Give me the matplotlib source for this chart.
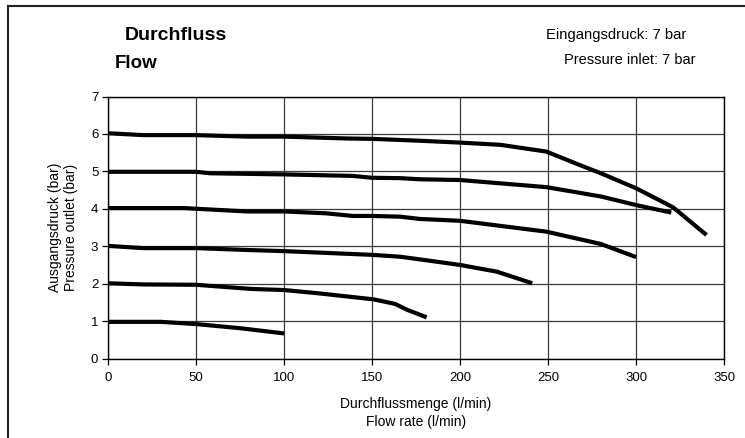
import numpy as np
import matplotlib.pyplot as plt
from matplotlib.lines import Line2D

plt.rcParams["font.family"] = ["Liberation Sans", "DejaVu Sans"]
plt.rcParams["font.size"] = 9.5

# flow (l/min) vs outlet pressure (bar), one curve per set pressure
flow_6 = [0, 20, 50, 79, 100, 136, 150, 177, 200, 223, 249, 268, 280, 300, 321, 340]
p_6 = [6.02, 5.97, 5.97, 5.93, 5.93, 5.88, 5.87, 5.82, 5.77, 5.71, 5.53, 5.17, 4.95, 4.55, 4.04, 3.30]

flow_5 = [0, 50, 58, 100, 139, 150, 166, 177, 200, 249, 280, 300, 320]
p_5 = [4.99, 4.99, 4.95, 4.92, 4.88, 4.83, 4.82, 4.79, 4.77, 4.58, 4.33, 4.10, 3.90]

flow_4 = [0, 43, 79, 100, 124, 139, 150, 166, 177, 200, 249, 280, 300]
p_4 = [4.02, 4.02, 3.93, 3.93, 3.88, 3.81, 3.81, 3.79, 3.73, 3.68, 3.39, 3.06, 2.71]

flow_3 = [0, 20, 50, 79, 100, 150, 166, 177, 200, 221, 241]
p_3 = [3.01, 2.95, 2.95, 2.90, 2.87, 2.77, 2.72, 2.65, 2.50, 2.32, 2.01]

flow_2 = [0, 20, 50, 81, 100, 120, 151, 163, 170, 181]
p_2 = [2.01, 1.98, 1.97, 1.86, 1.83, 1.74, 1.58, 1.46, 1.30, 1.10]

flow_1 = [0, 30, 50, 75, 100]
p_1 = [0.98, 0.98, 0.92, 0.81, 0.67]

curves = [(flow_6, p_6), (flow_5, p_5), (flow_4, p_4),
          (flow_3, p_3), (flow_2, p_2), (flow_1, p_1)]

fig = plt.figure(figsize=(7.45, 4.38), dpi=100)
ax = fig.add_axes([0.145, 0.1815, 0.827, 0.598])

for x, y in curves:
    ax.plot(x, y, color="black", lw=3.0, solid_capstyle="butt", zorder=3)

ax.set_xlim(0, 350)
ax.set_ylim(0, 7)
ax.set_xticks(np.arange(0, 351, 50))
ax.set_yticks(np.arange(0, 8, 1))
ax.grid(True, color="#3a3a3a", lw=0.9)
ax.tick_params(axis="y", direction="out", length=4, width=0.9, pad=3)
ax.tick_params(axis="x", direction="out", length=4, width=0.9, pad=6)
for s in ax.spines.values():
    s.set_linewidth(1.0)

ax.set_xlabel("Durchflussmenge (l/min)\nFlow rate (l/min)", fontsize=10, labelpad=9,
              linespacing=1.4)
ax.set_ylabel("Ausgangsdruck (bar)\nPressure outlet (bar)", fontsize=10, labelpad=9,
              linespacing=1.25)

fig.text(125 / 745, 1 - 35 / 438, "Durchfluss", fontsize=14, fontweight="bold",
         va="center", ha="left")
fig.text(115 / 745, 1 - 63 / 438, "Flow", fontsize=13.5, fontweight="bold",
         va="center", ha="left")
fig.text(686 / 745, 1 - 35 / 438, "Eingangsdruck: 7 bar", fontsize=10.6,
         va="center", ha="right")
fig.text(696 / 745, 1 - 60 / 438, "Pressure inlet: 7 bar", fontsize=10.5,
         va="center", ha="right")

# outer frame (only top and left visible in the picture)
fig.add_artist(Line2D([8 / 745, 1.0], [1 - 6 / 438, 1 - 6 / 438],
                      color="#222222", lw=1.5, transform=fig.transFigure))
fig.add_artist(Line2D([8 / 745, 8 / 745], [1 - 6 / 438, 0.0],
                      color="#222222", lw=1.5, transform=fig.transFigure))

fig.savefig("out.png", dpi=100)
